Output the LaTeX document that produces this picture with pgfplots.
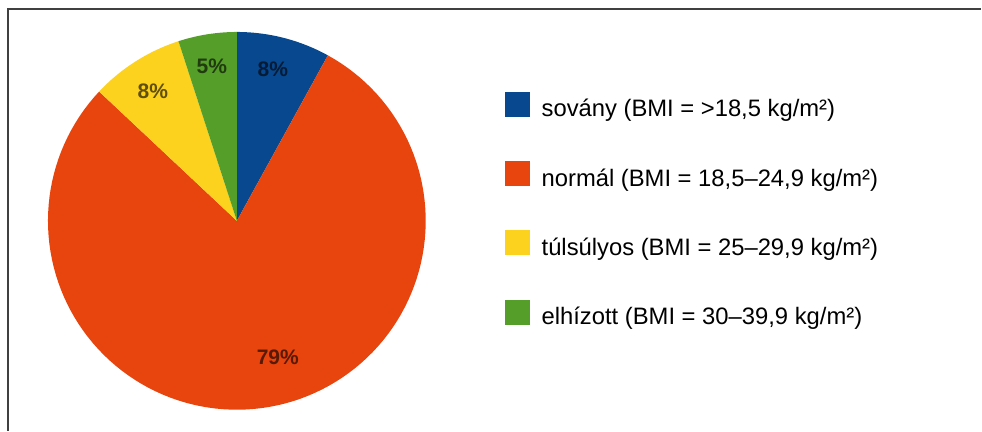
\documentclass[border=0pt]{standalone}
\usepackage{pgfplots}
\pgfplotsset{compat=1.18}
\usepackage{fontspec}
\setmainfont{Liberation Sans}

\definecolor{sovany}{RGB}{8,72,142}
\definecolor{normal}{RGB}{232,68,14}
\definecolor{tulsulyos}{RGB}{252,210,30}
\definecolor{elhizott}{RGB}{85,158,42}

\begin{document}
\begin{tikzpicture}
% canvas in pixel units: 982 x 431, pie centre (237,210), radius 189
% shares: 8 / 79 / 8 / 5 per cent, clockwise from 12 o'clock
\begin{axis}[
    width=982bp, height=431bp, scale only axis,
    xmin=0, xmax=982, ymin=0, ymax=431,
    hide axis, clip=false,
    legend image code/.code={\fill[#1] (0bp,-6bp) rectangle (25bp,19bp);},
    legend cell align=left,
    legend style={
        at={(axis cs:505,339)}, anchor=north west,
        draw=none, fill=none, inner sep=0pt, outer sep=0pt,
        row sep=39.3bp, column sep=12bp,
        nodes={inner sep=0pt, text height=17bp, text depth=5bp},
        font=\fontsize{23.8bp}{27bp}\selectfont,
    },
]
% keep the whole canvas in the bounding box
\path (axis cs:0,0) rectangle (axis cs:982,431);
% frame (left and top edges only)
\draw[black!75, line width=1.3bp] (axis cs:8,0) -- (axis cs:8,422) -- (axis cs:982,422);

\addplot[fill=sovany, draw=none, domain=61.2:90, samples=30]
    ({237+189*cos(x)},{210+189*sin(x)}) -- (axis cs:237,210) -- cycle;
\addlegendentry{sovány (BMI = >18,5 kg/m²)}
\addplot[fill=normal, draw=none, domain=-223.2:61.2, samples=120]
    ({237+189*cos(x)},{210+189*sin(x)}) -- (axis cs:237,210) -- cycle;
\addlegendentry{normál (BMI = 18,5–24,9 kg/m²)}
\addplot[fill=tulsulyos, draw=none, domain=108:136.8, samples=30]
    ({237+189*cos(x)},{210+189*sin(x)}) -- (axis cs:237,210) -- cycle;
\addlegendentry{túlsúlyos (BMI = 25–29,9 kg/m²)}
\addplot[fill=elhizott, draw=none, domain=90:108, samples=20]
    ({237+189*cos(x)},{210+189*sin(x)}) -- (axis cs:237,210) -- cycle;
\addlegendentry{elhízott (BMI = 30–39,9 kg/m²)}

\begin{scope}[every node/.style={font=\bfseries\fontsize{21bp}{21bp}\selectfont, text=black, text opacity=0.62}]
\node at (axis cs:273,362) {8\%};
\node at (axis cs:278,73) {79\%};
\node at (axis cs:153,340) {8\%};
\node at (axis cs:212,365) {5\%};
\end{scope}
\end{axis}
\end{tikzpicture}
\end{document}
